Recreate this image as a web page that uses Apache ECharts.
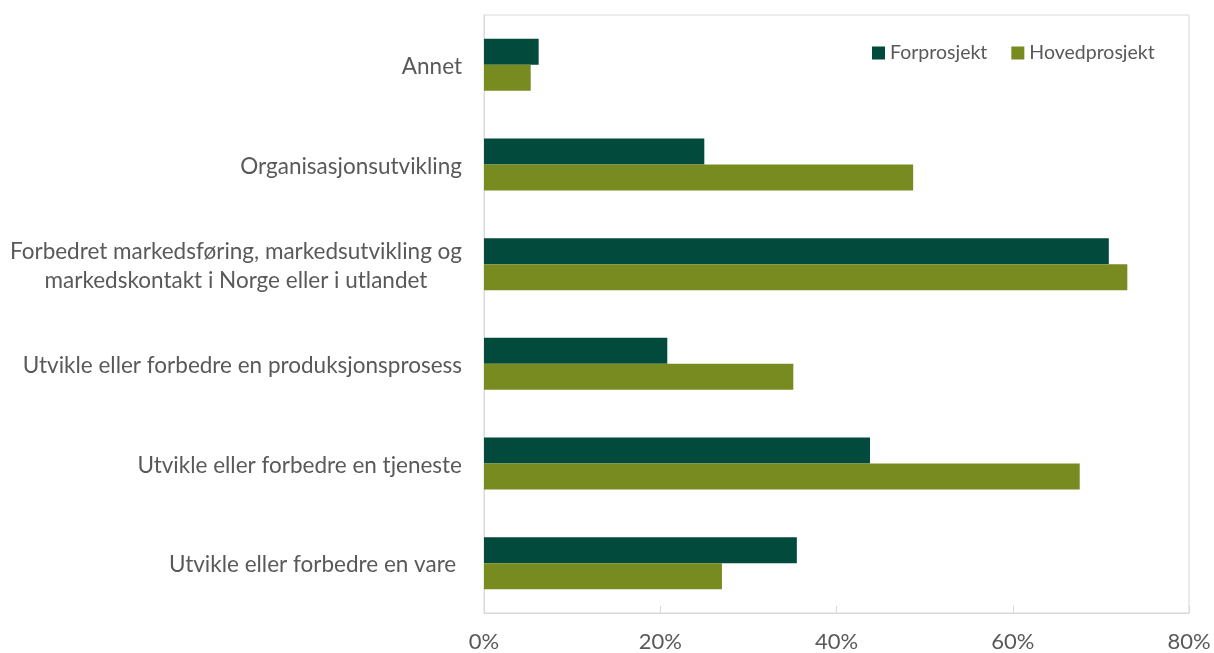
<!DOCTYPE html>
<html>
<head>
<meta charset="utf-8">
<script src="https://cdn.jsdelivr.net/npm/echarts@6/dist/echarts.min.js"></script>
<style>
  html, body { margin: 0; padding: 0; background: #fff; }
  #chart { width: 1214px; height: 653px; }
</style>
</head>
<body>
<div id="chart"></div>
<script>
// Project goals, share of projects (%), top to bottom
const categories = [
  'Annet',
  'Organisasjonsutvikling',
  'Forbedret markedsføring, markedsutvikling og\nmarkedskontakt i Norge eller i utlandet',
  'Utvikle eller forbedre en produksjonsprosess',
  'Utvikle eller forbedre en tjeneste',
  'Utvikle eller forbedre en vare '
];
const forprosjekt = [6.2, 25.0, 70.9, 20.8, 43.8, 35.5];
const hovedprosjekt = [5.3, 48.7, 73.0, 35.1, 67.6, 27.0];
const xTicks = [0, 20, 40, 60, 80];

const textColor = '#595959';
const fontFamily = 'Lato, "Open Sans", sans-serif';

const chart = echarts.init(document.getElementById('chart'));
chart.setOption({
  animation: false,
  textStyle: { fontFamily: fontFamily },
  grid: {
    left: 484, right: 25, top: 15, bottom: 40,
    show: true, borderColor: '#d9d9d9', borderWidth: 1,
    containLabel: false
  },
  legend: {
    left: 867, top: 38,
    itemWidth: 13, itemHeight: 13, itemGap: 24,
    icon: 'rect',
    textStyle: { color: textColor, fontSize: 19.5, fontFamily: fontFamily },
    data: ['Forprosjekt', 'Hovedprosjekt']
  },
  xAxis: {
    type: 'value',
    min: xTicks[0], max: xTicks[xTicks.length - 1], interval: 20,
    axisLine: { show: true, lineStyle: { color: '#d9d9d9', width: 1 } },
    axisTick: { show: true, inside: true, length: 7, lineStyle: { color: '#d9d9d9' } },
    splitLine: { show: false },
    axisLabel: {
      color: textColor, fontSize: 22, margin: 18,
      formatter: v => v + '%'
    }
  },
  yAxis: {
    type: 'category',
    inverse: true,
    data: categories,
    axisLine: { show: true, lineStyle: { color: '#d9d9d9', width: 1 } },
    axisTick: { show: false },
    axisLabel: {
      margin: 22,
      formatter: v => v.split('\n').map(s => '{c|' + s + '}').join('\n'),
      rich: {
        c: { color: textColor, fontSize: 22.5, fontFamily: fontFamily, align: 'center', lineHeight: 29, padding: [4, 0, 0, 0] }
      }
    }
  },
  series: [
    {
      name: 'Forprosjekt', type: 'bar', data: forprosjekt,
      barWidth: 26, barGap: '0%',
      itemStyle: { color: '#024a3b' }
    },
    {
      name: 'Hovedprosjekt', type: 'bar', data: hovedprosjekt,
      barWidth: 26, barGap: '0%',
      itemStyle: { color: '#788b21' }
    }
  ]
});
</script>
</body>
</html>
